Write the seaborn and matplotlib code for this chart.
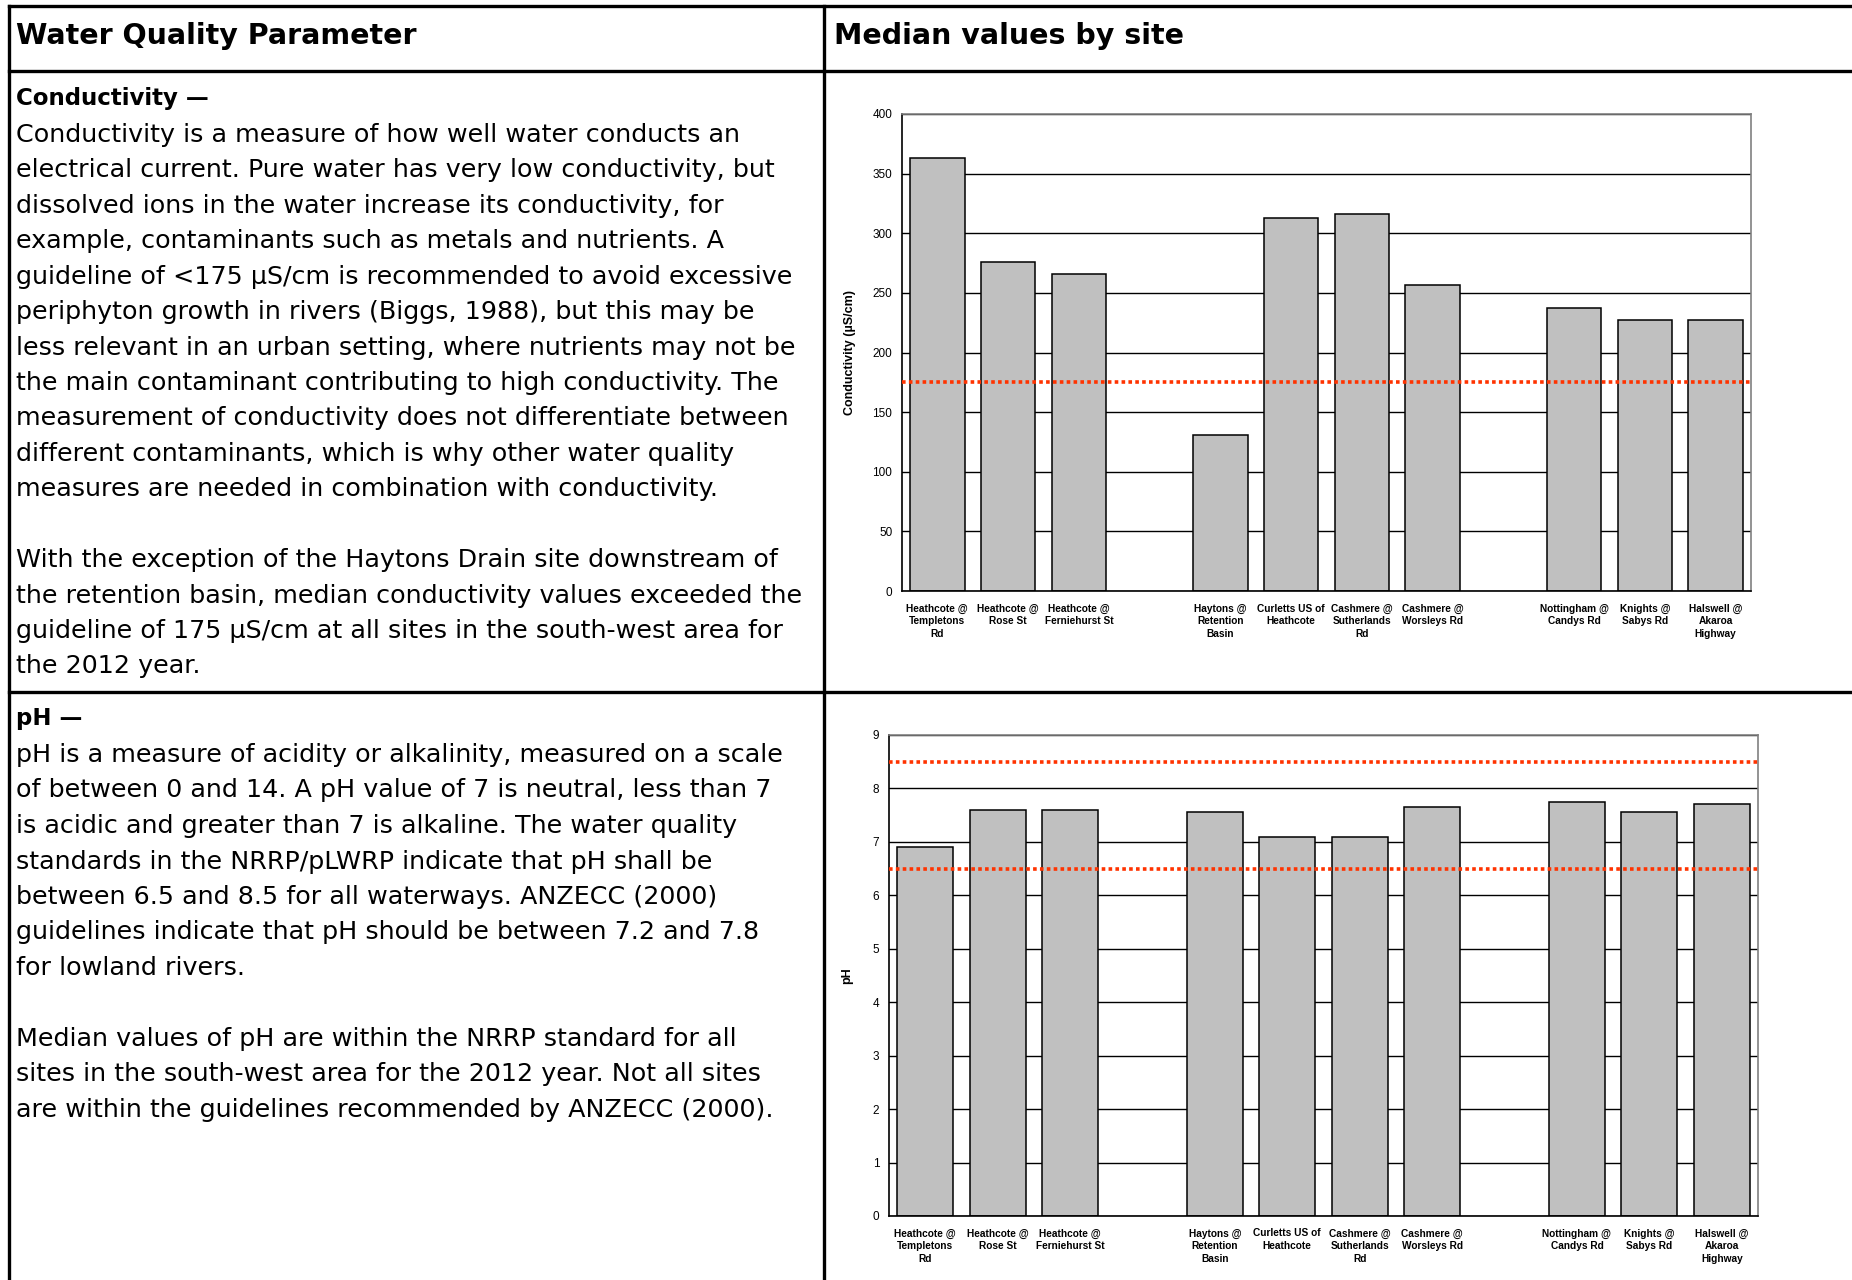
import numpy as np
import pandas as pd
import seaborn as sns
import matplotlib.pyplot as plt
from matplotlib.lines import Line2D

# site labels (slots in chart order, "" = empty gap slot)
slot_labels = ["Heathcote @\nTempletons\nRd", "Heathcote @\nRose St", "Heathcote @\nFerniehurst St", "",
               "Haytons @\nRetention\nBasin", "Curletts US of\nHeathcote", "Cashmere @\nSutherlands\nRd",
               "Cashmere @\nWorsleys Rd", "", "Nottingham @\nCandys Rd", "Knights @\nSabys Rd",
               "Halswell @\nAkaroa\nHighway"]
sites = [s for s in slot_labels if s]

conductivity = [363, 276, 266, 131, 313, 316.5, 256.5, 237, 227.5, 227]
ph_values = [6.9, 7.6, 7.6, 7.55, 7.1, 7.1, 7.65, 7.75, 7.55, 7.7]
cond_guideline = [175]
ph_limits = [6.5, 8.5]

header_left = "Water Quality Parameter"
header_right = "Median values by site"

cond_title = "Conductivity \u2014"
cond_text = [
    "Conductivity is a measure of how well water conducts an",
    "electrical current. Pure water has very low conductivity, but",
    "dissolved ions in the water increase its conductivity, for",
    "example, contaminants such as metals and nutrients. A",
    "guideline of <175 \u00b5S/cm is recommended to avoid excessive",
    "periphyton growth in rivers (Biggs, 1988), but this may be",
    "less relevant in an urban setting, where nutrients may not be",
    "the main contaminant contributing to high conductivity. The",
    "measurement of conductivity does not differentiate between",
    "different contaminants, which is why other water quality",
    "measures are needed in combination with conductivity.",
    "",
    "With the exception of the Haytons Drain site downstream of",
    "the retention basin, median conductivity values exceeded the",
    "guideline of 175 \u00b5S/cm at all sites in the south-west area for",
    "the 2012 year.",
]
ph_title = "pH \u2014"
ph_text = [
    "pH is a measure of acidity or alkalinity, measured on a scale",
    "of between 0 and 14. A pH value of 7 is neutral, less than 7",
    "is acidic and greater than 7 is alkaline. The water quality",
    "standards in the NRRP/pLWRP indicate that pH shall be",
    "between 6.5 and 8.5 for all waterways. ANZECC (2000)",
    "guidelines indicate that pH should be between 7.2 and 7.8",
    "for lowland rivers.",
    "",
    "Median values of pH are within the NRRP standard for all",
    "sites in the south-west area for the 2012 year. Not all sites",
    "are within the guidelines recommended by ANZECC (2000).",
]

W, H = 1852, 1280
sns.set_style("white")
plt.rcParams['font.family'] = ['DejaVu Sans']
plt.rcParams['text.color'] = 'black'
plt.rcParams['axes.labelcolor'] = 'black'
plt.rcParams['xtick.color'] = 'black'
plt.rcParams['ytick.color'] = 'black'

fig = plt.figure(figsize=(W / 100, H / 100), dpi=100)


def fx(x):
    return x / W


def fy(y):
    return 1 - y / H


# table borders
for (x0, y0, x1, y1) in [(9, 6, W, 6), (9, 71, W, 71), (9, 692, W, 692), (9, 6, 9, H), (824, 6, 824, H)]:
    fig.add_artist(Line2D([fx(x0), fx(x1)], [fy(y0), fy(y1)], color='black', lw=2.4,
                          transform=fig.transFigure, solid_capstyle='projecting'))

body_size = 18.3
fig.text(fx(16), fy(36), header_left, fontsize=20.5, fontweight='bold', va='center')
fig.text(fx(834), fy(36), header_right, fontsize=20.5, fontweight='bold', va='center')

fig.text(fx(16), fy(99), cond_title, fontsize=16.5, fontweight='bold', va='center')
for i, line in enumerate(cond_text):
    fig.text(fx(16), fy(135 + i * 35.43), line, fontsize=body_size, va='center')

fig.text(fx(16), fy(719), ph_title, fontsize=16.5, fontweight='bold', va='center')
for i, line in enumerate(ph_text):
    fig.text(fx(16), fy(755 + i * 35.5), line, fontsize=body_size, va='center')

order = [s if s else "gap%d" % i for i, s in enumerate(slot_labels)]
df_cond = pd.DataFrame({'site': [order[slot_labels.index(s)] for s in sites], 'value': conductivity})
df_ph = pd.DataFrame({'site': [order[slot_labels.index(s)] for s in sites], 'value': ph_values})


def bar_chart(ax, df, ymax, step, ylabel, lines, label_x):
    sns.barplot(data=df, x='site', y='value', order=order, color='#C0C0C0', saturation=1,
                edgecolor='black', linewidth=1.1, width=0.77, ax=ax, zorder=2)
    for v in lines:
        ax.axhline(v, color='#FF3300', ls=(0, (1, 0.9)), lw=2.6, zorder=3)
    ax.set_xlim(-0.5, len(order) - 0.5)
    ax.set_ylim(0, ymax)
    ax.set_yticks(np.arange(0, ymax + step / 2, step))
    ax.yaxis.grid(True, color='black', lw=1.0)
    ax.set_axisbelow(True)
    ax.set_xticks(range(len(order)))
    ax.set_xticklabels(slot_labels, fontsize=7.3, fontweight='bold', family='Liberation Sans',
                       linespacing=1.35, va='top')
    ax.set_xticks(np.arange(-0.5, len(order)), minor=True)
    ax.tick_params(axis='x', which='major', length=0, pad=9)
    ax.tick_params(axis='x', which='minor', length=5, direction='out', width=1, color='black')
    ax.tick_params(axis='y', length=4, direction='out', width=1, color='black', labelsize=8.5, pad=3)
    for lab in ax.get_yticklabels():
        lab.set_family('Liberation Sans')
    ax.set_xlabel("")
    ax.set_ylabel(ylabel, fontsize=9, fontweight='bold', family='Liberation Sans')
    ax.yaxis.set_label_coords(label_x, 0.5)
    for side in ['top', 'right']:
        ax.spines[side].set_color('#808080')
        ax.spines[side].set_linewidth(1.2)
    for side in ['left', 'bottom']:
        ax.spines[side].set_color('black')
        ax.spines[side].set_linewidth(1.2)


ax1 = fig.add_axes([fx(902), fy(591), (1751 - 902) / W, (591 - 114) / H])
bar_chart(ax1, df_cond, 400, 50, "Conductivity (\u00b5S/cm)", cond_guideline, -0.054)

ax2 = fig.add_axes([fx(889), fy(1216), (1758 - 889) / W, (1216 - 735) / H])
bar_chart(ax2, df_ph, 9, 1, "pH", ph_limits, -0.041)

fig.savefig("out.png", dpi=100)
